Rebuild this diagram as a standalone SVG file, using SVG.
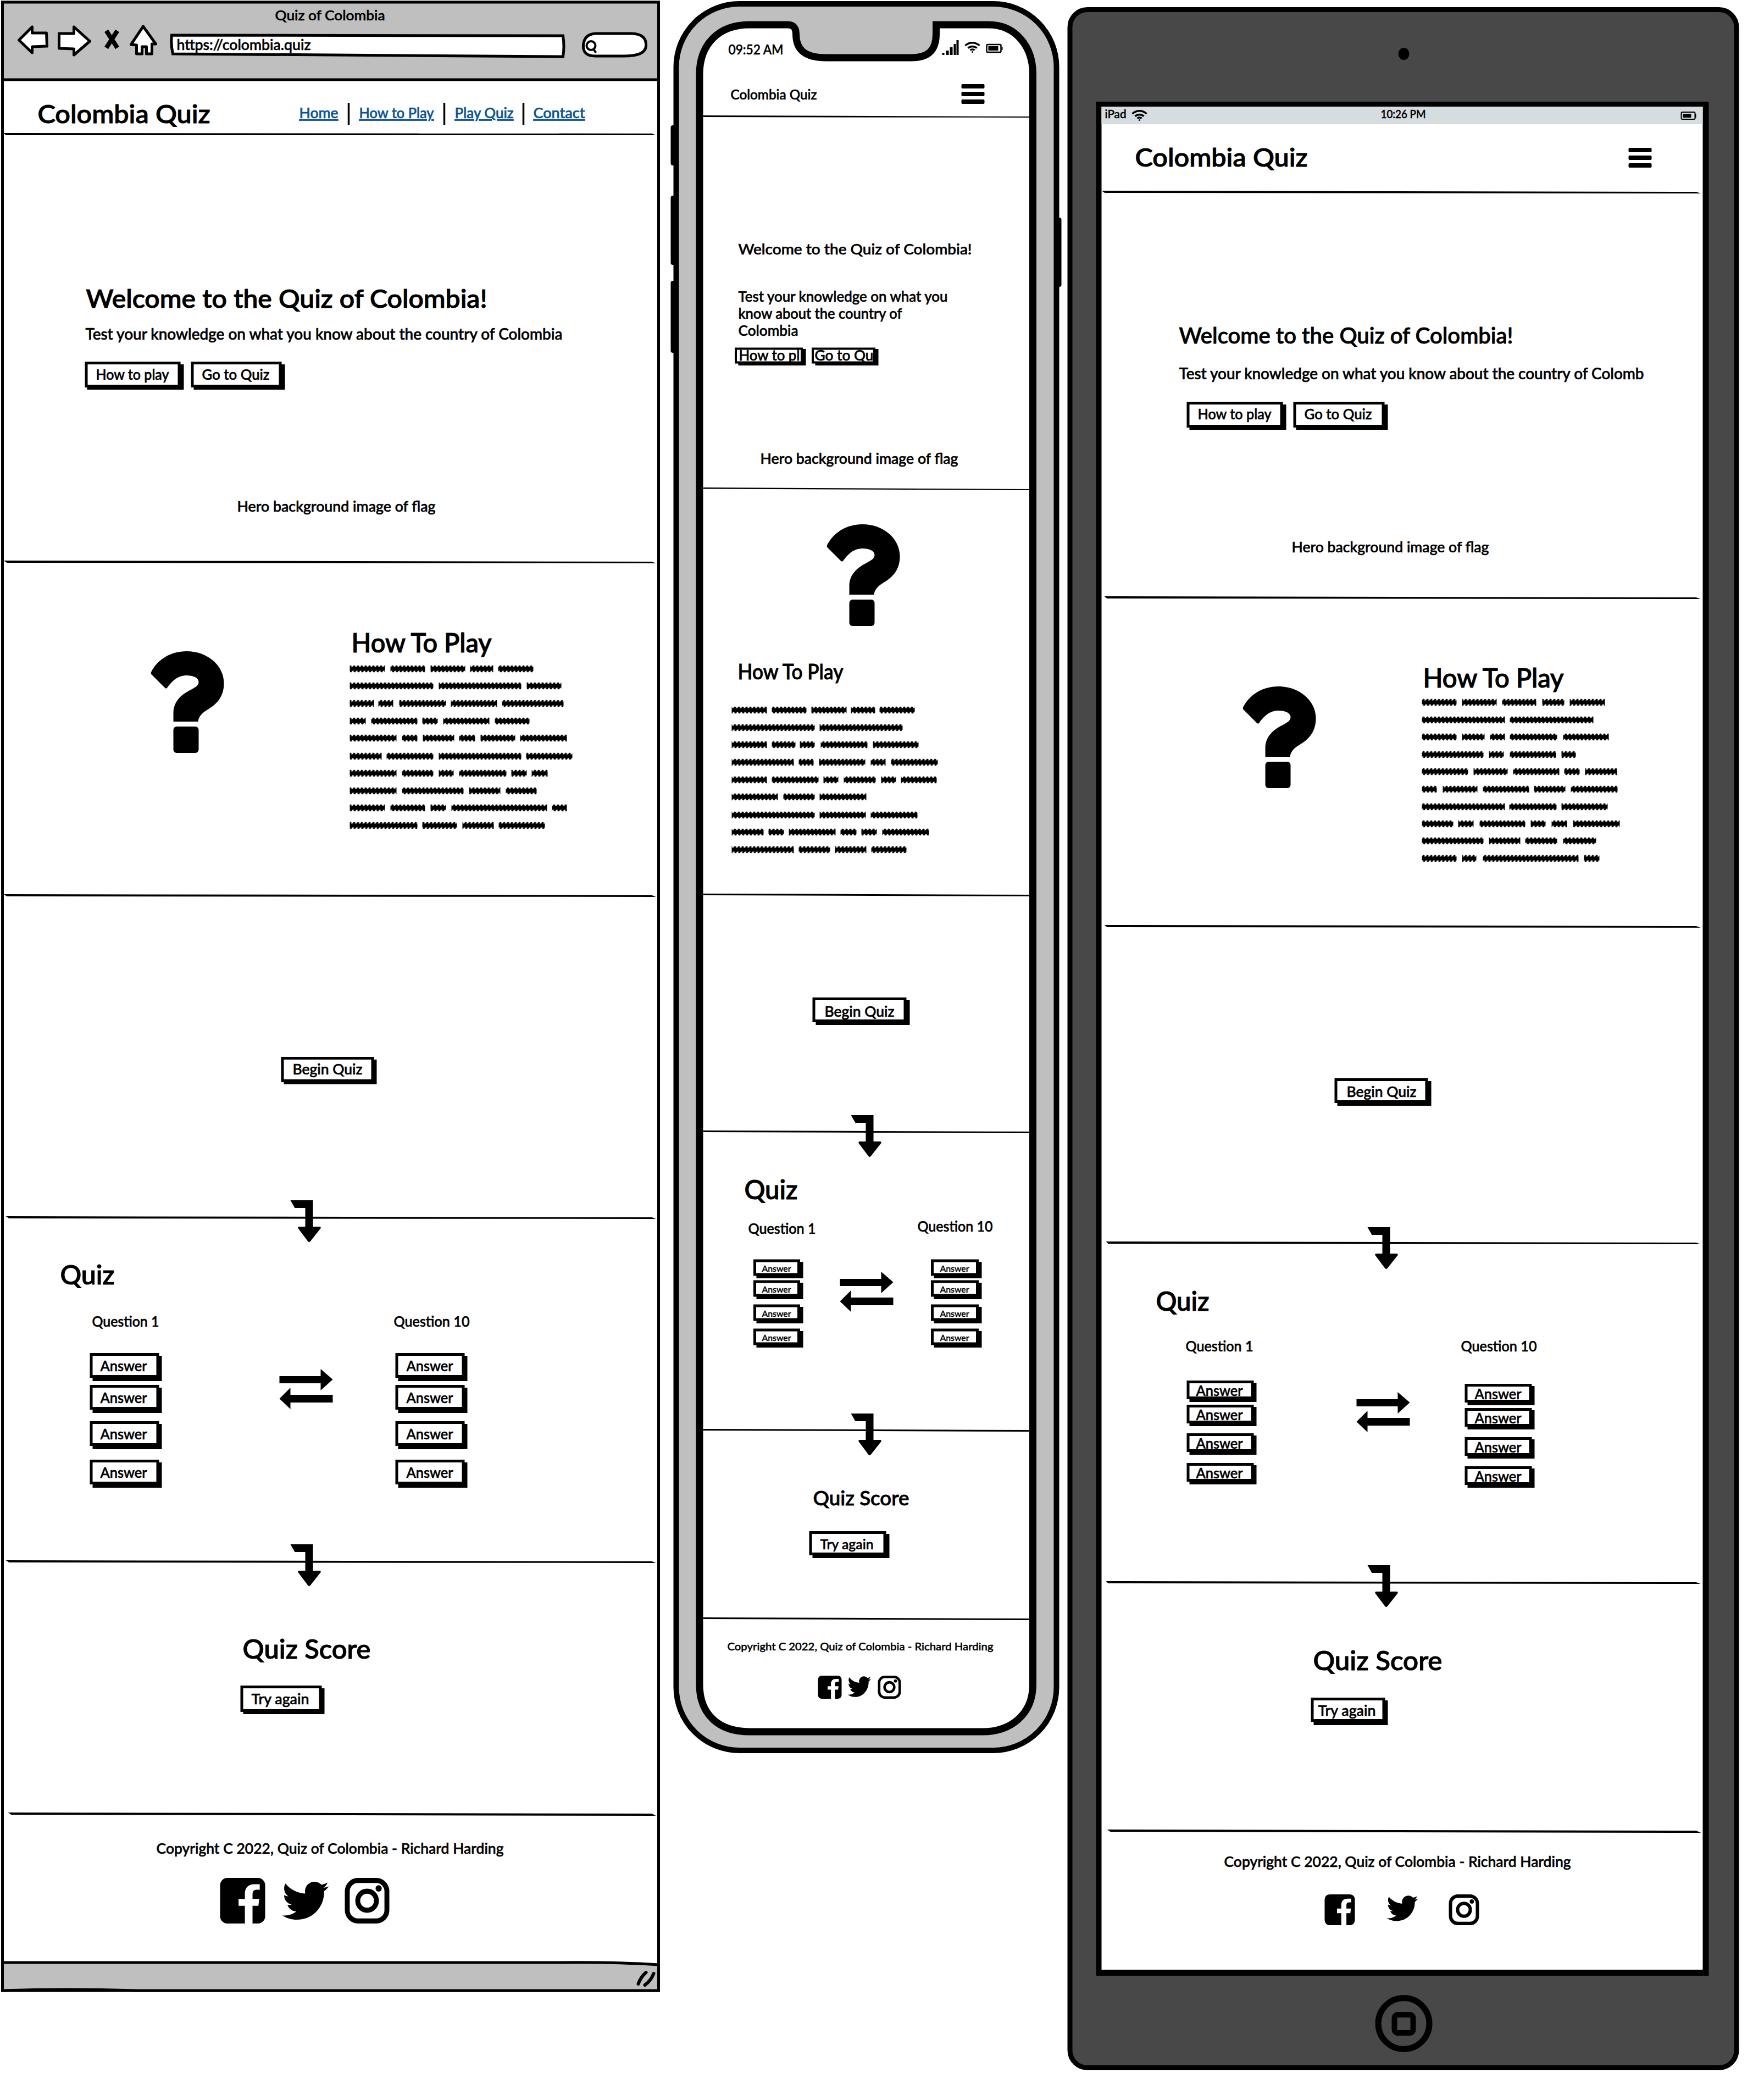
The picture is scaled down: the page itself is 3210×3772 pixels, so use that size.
<svg xmlns="http://www.w3.org/2000/svg" width="3210" height="3772" viewBox="0 0 3210 3772">
<style>
text{font-family:Lato,"Open Sans","Liberation Sans",sans-serif;fill:#000;stroke:#000;stroke-width:.025em;font-weight:500}
.lnk{fill:#0b5394;stroke:#0b5394;text-decoration:underline}
.sq{fill:none;stroke:url(#sqp);stroke-width:13}
.d{fill:#000}
.s{fill:#000}
.b{fill:#fff;stroke:#000;stroke-width:5}
.c{fill:#fff;stroke:#000;stroke-width:5;stroke-linejoin:round}
</style>
<defs>
<pattern id="sqp" patternUnits="userSpaceOnUse" x="0" y="-7" width="7" height="14">
<rect y="3.500" width="7" height="7" fill="#000"/>
<path d="M-5 13L3 1M2 13L10 1M9 13L17 1" stroke="#000" stroke-width="3.500" fill="none"/>
</pattern>
<g id="ques"><path d="M2 37C14 14 38 0 66 0C104 0 134 26 134 58C134 80 124 95 103 107C92 114 88 120 87 128H42V112C42 88 62 76 74 70C83 65 88 62 88 56C88 48 78 44 66 44C50 44 40 54 31 66C30 68 28 68 26 66L2 42C1 41 1 39 2 37Z"/><rect x="42" y="137" width="46" height="48" rx="6"/></g>
<path id="hook" d="M0 0H41V48H53Q56 48 55 51L36 75Q34 77 32 75L14 51Q13 48 16 48H27V14H8Z"/>
<path id="swap" d="M0 13H75V0L97 19L75 39V26H0ZM0 54L20 34V47H97V61H20V73Z"/>
<g id="burg"><rect width="42" height="8" rx="2"/><rect y="14" width="42" height="8" rx="2"/><rect y="28" width="42" height="8" rx="2"/></g>
<path id="fb" d="M16 0H84a16 16 0 0 1 16 16V84a16 16 0 0 1-16 16H72V61H85L87 46H72V36c0-7 3-10 10-10H88V14H76C62 14 55 22 55 35V46H41V61H55V100H16A16 16 0 0 1 0 84V16A16 16 0 0 1 16 0Z"/>
<path id="tw" d="M459.37 151.716c.325 4.548.325 9.097.325 13.645 0 138.72-105.583 298.558-298.558 298.558-59.452 0-114.68-17.219-161.137-47.106 8.447.974 16.568 1.299 25.34 1.299 49.055 0 94.213-16.568 130.274-44.832-46.132-.975-84.792-31.188-98.112-72.772 6.498.974 12.995 1.624 19.818 1.624 9.421 0 18.843-1.3 27.614-3.573-48.081-9.747-84.143-51.98-84.143-102.985v-1.299c13.969 7.797 30.214 12.67 47.431 13.319-28.264-18.843-46.781-51.005-46.781-87.391 0-19.492 5.197-37.36 14.294-52.954 51.655 63.675 129.3 105.258 216.365 109.807-1.624-7.797-2.599-15.918-2.599-24.04 0-57.828 46.782-104.934 104.934-104.934 30.213 0 57.502 12.67 76.67 33.137 23.715-4.548 46.456-13.32 66.599-25.34-7.798 24.366-24.366 44.833-46.132 57.827 21.117-2.273 41.584-8.122 60.426-16.243-14.292 20.791-32.161 39.308-52.628 54.253z"/>
<g id="ig"><rect x="5.500" y="5.500" width="89" height="89" rx="24" fill="none" stroke="#000" stroke-width="11"/><circle cx="50" cy="50" r="21" fill="none" stroke="#000" stroke-width="11"/><circle cx="76" cy="23" r="7"/></g>
<g id="wifi" fill="none" stroke="#000" stroke-width="3.500"><path d="M1 7A19 19 0 0 1 27 7M6 11.500A12 12 0 0 1 22 11.500M10 15.500A6 6 0 0 1 18 15.500"/><circle cx="14" cy="18.500" r="1.500" fill="#000" stroke="none"/></g>
</defs>
<rect width="3210" height="3772" fill="#fff"/>
<g transform="translate(-1.500,0)">
<g id="browser">
<rect x="6" y="4" width="1194" height="3618" fill="#fff" stroke="#000" stroke-width="5"/>
<path d="M6 4H1200V145H6Z" fill="#bfbfbf" stroke="#000" stroke-width="5"/>
<path d="M6 3571H1020Q1120 3570 1200 3575V3622H250Q120 3618 6 3622Z" fill="#bfbfbf" stroke="#000" stroke-width="5"/>
<path d="M1163 3610Q1167 3598 1177 3589M1175 3612Q1186 3604 1191 3591" fill="none" stroke="#000" stroke-width="6" stroke-linecap="round"/>
<text x="502" y="37" font-size="25" textLength="200" lengthAdjust="spacingAndGlyphs">Quiz of Colombia</text>
<path class="c" d="M36 73L60 49L60 60L86 60L87 84L60 85L60 96Z"/>
<path class="c" d="M165 75L136 49L136 61L109 61L109 88L136 89L136 100Z"/>
<path d="M195 56L215 87M215 56L195 87" stroke="#000" stroke-width="8" fill="none"/>
<path class="c" d="M262 48L240 81L250 82L250 98L260 98L260 85L268 85L268 98L278 98L278 80L285 80Z"/>
<path d="M314 64Q670 64 1026 65Q1029 85 1026 103Q670 100 316 98Q312 80 314 64Z" fill="#fff" stroke="#000" stroke-width="5"/>
<text x="323" y="91" font-size="26" textLength="244" lengthAdjust="spacingAndGlyphs">https://colombia.quiz</text>
<path d="M1085 61H1150C1172 61 1178 72 1177 84C1176 97 1160 103 1130 102H1085C1068 102 1062 94 1063 82C1064 70 1070 62 1085 61Z" fill="#fff" stroke="#000" stroke-width="5"/>
<circle cx="1077" cy="83" r="8" fill="none" stroke="#000" stroke-width="4"/><path d="M1082 90L1086 96" stroke="#000" stroke-width="4"/>
</g>
<g id="browser-nav">
<text x="70" y="224" font-size="47" textLength="314" lengthAdjust="spacingAndGlyphs">Colombia Quiz</text>
<text class="lnk" x="546" y="215" font-size="27" textLength="71" lengthAdjust="spacingAndGlyphs">Home</text>
<text class="lnk" x="655" y="215" font-size="27" textLength="136" lengthAdjust="spacingAndGlyphs">How to Play</text>
<text class="lnk" x="829" y="215" font-size="27" textLength="107" lengthAdjust="spacingAndGlyphs">Play Quiz</text>
<text class="lnk" x="972" y="215" font-size="27" textLength="94" lengthAdjust="spacingAndGlyphs">Contact</text>
<path d="M636 187V227M810 187V227M954 187V227" stroke="#000" stroke-width="3.500" fill="none"/>
</g>
<g id="browser-dividers">
<path class="d" d="M8 242L1188 243L1195 246L12 246Z"/>
<path class="d" d="M8 1020L1188 1022L1195 1025L14 1024Z"/>
<path class="d" d="M8 1627L1188 1629L1195 1632L14 1631Z"/>
<path class="d" d="M12 2213L1188 2215L1195 2218L18 2217Z"/>
<path class="d" d="M12 2839L1188 2841L1195 2844L18 2843Z"/>
<path class="d" d="M16 3298L1188 3300L1195 3304L22 3302Z"/>
</g>
<g id="browser-hero">
<text x="158" y="560" font-size="47" textLength="730" lengthAdjust="spacingAndGlyphs">Welcome to the Quiz of Colombia!</text>
<text x="157" y="618" font-size="29" textLength="868" lengthAdjust="spacingAndGlyphs">Test your knowledge on what you know about the country of Colombia</text>
<rect class="s" x="160" y="663" width="176" height="46"/><rect class="b" x="158.500" y="660.500" width="169" height="42"/>
<text x="176" y="691" font-size="27" textLength="133" lengthAdjust="spacingAndGlyphs">How to play</text>
<rect class="s" x="354" y="663" width="166" height="46"/><rect class="b" x="351.500" y="660.500" width="160" height="42"/>
<text x="369" y="691" font-size="27" textLength="123" lengthAdjust="spacingAndGlyphs">Go to Quiz</text>
<text x="433" y="931" font-size="26" textLength="361" lengthAdjust="spacingAndGlyphs">Hero background image of flag</text>
</g>
<g id="browser-howto">
<use href="#ques" x="275" y="1185"/>
<text x="641" y="1187" font-size="48" textLength="255" lengthAdjust="spacingAndGlyphs">How To Play</text>
<path class="sq" transform="translate(0,1217)" d="M638 0H702M712 0H775M785 0H848M857 0H899M908 0H972"/>
<path class="sq" transform="translate(0,1248)" d="M638 0H790M800 0H950M960 0H1023"/>
<path class="sq" transform="translate(0,1280)" d="M638 0H682M690 0H717M728 0H813M822 0H906M915 0H1027"/>
<path class="sq" transform="translate(0,1312)" d="M638 0H667M677 0H761M770 0H798M808 0H892M902 0H965"/>
<path class="sq" transform="translate(0,1343)" d="M638 0H723M733 0H761M771 0H828M837 0H866M876 0H939M948 0H1033"/>
<path class="sq" transform="translate(0,1376)" d="M638 0H696M705 0H790M800 0H950M959 0H1043"/>
<path class="sq" transform="translate(0,1407)" d="M638 0H723M733 0H790M800 0H827M837 0H923M932 0H960M969 0H998"/>
<path class="sq" transform="translate(0,1439)" d="M638 0H723M733 0H845M855 0H912M922 0H978"/>
<path class="sq" transform="translate(0,1470)" d="M638 0H702M712 0H775M785 0H813M823 0H997M1006 0H1033"/>
<path class="sq" transform="translate(0,1502)" d="M638 0H761M770 0H833M843 0H900M909 0H993"/>
</g>
<g id="browser-begin">
<rect class="s" x="518" y="1928" width="169" height="45"/><rect class="b" x="515.500" y="1925.500" width="164" height="41"/>
<text x="534" y="1955" font-size="27" textLength="127" lengthAdjust="spacingAndGlyphs">Begin Quiz</text>
</g>
<g id="browser-quiz">
<text x="111" y="2337" font-size="48" textLength="99" lengthAdjust="spacingAndGlyphs">Quiz</text>
<text x="169" y="2414" font-size="26" textLength="122" lengthAdjust="spacingAndGlyphs">Question 1</text>
<text x="718" y="2414" font-size="26" textLength="138" lengthAdjust="spacingAndGlyphs">Question 10</text>
<rect class="s" x="170" y="2467" width="126" height="46"/><rect class="b" x="167.500" y="2464.500" width="121" height="40"/><text x="184" y="2495" font-size="26" textLength="85" lengthAdjust="spacingAndGlyphs">Answer</text>
<rect class="s" x="170" y="2525" width="126" height="46"/><rect class="b" x="167.500" y="2522.500" width="121" height="40"/><text x="184" y="2553" font-size="26" textLength="85" lengthAdjust="spacingAndGlyphs">Answer</text>
<rect class="s" x="170" y="2591" width="126" height="46"/><rect class="b" x="167.500" y="2588.500" width="121" height="40"/><text x="184" y="2619" font-size="26" textLength="85" lengthAdjust="spacingAndGlyphs">Answer</text>
<rect class="s" x="170" y="2661" width="126" height="46"/><rect class="b" x="167.500" y="2658.500" width="121" height="40"/><text x="184" y="2689" font-size="26" textLength="85" lengthAdjust="spacingAndGlyphs">Answer</text>
<rect class="s" x="726" y="2467" width="126" height="46"/><rect class="b" x="723.500" y="2464.500" width="121" height="40"/><text x="741" y="2495" font-size="26" textLength="85" lengthAdjust="spacingAndGlyphs">Answer</text>
<rect class="s" x="726" y="2525" width="126" height="46"/><rect class="b" x="723.500" y="2522.500" width="121" height="40"/><text x="741" y="2553" font-size="26" textLength="85" lengthAdjust="spacingAndGlyphs">Answer</text>
<rect class="s" x="726" y="2591" width="126" height="46"/><rect class="b" x="723.500" y="2588.500" width="121" height="40"/><text x="741" y="2619" font-size="26" textLength="85" lengthAdjust="spacingAndGlyphs">Answer</text>
<rect class="s" x="726" y="2661" width="126" height="46"/><rect class="b" x="723.500" y="2658.500" width="121" height="40"/><text x="741" y="2689" font-size="26" textLength="85" lengthAdjust="spacingAndGlyphs">Answer</text>
</g>
<g id="browser-score">
<text x="443" y="3018" font-size="48" textLength="233" lengthAdjust="spacingAndGlyphs">Quiz Score</text>
<rect class="s" x="444" y="3072" width="148" height="47"/><rect class="b" x="441.500" y="3069.500" width="143" height="43"/>
<text x="459" y="3101" font-size="27" textLength="105" lengthAdjust="spacingAndGlyphs">Try again</text>
</g>
<g id="browser-footer">
<text x="286" y="3373" font-size="26" textLength="632" lengthAdjust="spacingAndGlyphs">Copyright C 2022, Quiz of Colombia - Richard Harding</text>
<use href="#fb" transform="translate(402,3417) scale(.82,.83)"/>
<use href="#tw" transform="translate(515,3416) scale(.166,.166)"/>
<use href="#ig" transform="translate(629,3417) scale(.81,.83)"/>
</g>

<g id="phone">
<rect x="1222" y="228" width="10" height="73" rx="4"/><rect x="1222" y="356" width="10" height="126" rx="4"/><rect x="1222" y="511" width="10" height="131" rx="4"/><rect x="1922" y="396" width="11" height="126" rx="4"/>
<rect x="1232" y="7" width="692" height="3178" rx="115" fill="#bfbfbf" stroke="#000" stroke-width="10"/>
<path d="M1274.500 135C1274.500 80 1310 45 1365 45H1435C1446 45 1450 52 1450 62C1450 90 1465 105 1505 105H1660C1690 105 1705 92 1705 62V45H1800C1850 45 1881 85 1881 135V3065C1881 3120 1840 3151 1790 3151H1365C1310 3151 1274.500 3120 1274.500 3065Z" fill="#fff" stroke="#000" stroke-width="13"/>
<text x="1327" y="99" font-size="24" textLength="100" lengthAdjust="spacingAndGlyphs">09:52 AM</text>
<path d="M1716 96h4v4h-4zM1723 92h5v8h-5zM1730 86h5v14h-5zM1737 80h4v20h-4zM1742 73h4v27h-4z"/>
<use href="#wifi" x="1757" y="76"/>
<rect x="1797" y="81" width="26" height="14" rx="2" fill="none" stroke="#000" stroke-width="2.500"/><rect x="1800" y="84" width="18" height="8"/><rect x="1824" y="85" width="2" height="6"/>
</g>
<g id="phone-nav">
<text x="1331" y="181" font-size="24" textLength="157" lengthAdjust="spacingAndGlyphs">Colombia Quiz</text>
<use href="#burg" x="1751" y="153"/>
</g>
<g id="phone-dividers">
<path class="d" d="M1281 210L1884 212L1887 214L1281 213Z"/>
<path class="d" d="M1281 887L1874 890L1874 892L1281 889.500Z"/>
<path class="d" d="M1281 1626L1874 1628L1874 1631L1281 1629Z"/>
<path class="d" d="M1281 2057L1874 2059L1874 2062L1281 2060Z"/>
<path class="d" d="M1281 2600L1874 2602L1874 2605L1281 2603Z"/>
<path class="d" d="M1281 2943L1874 2945L1874 2948L1281 2946Z"/>
</g>
<g id="phone-hero">
<text x="1345" y="463" font-size="27" textLength="425" lengthAdjust="spacingAndGlyphs">Welcome to the Quiz of Colombia!</text>
<text x="1345" y="549" font-size="26" textLength="381" lengthAdjust="spacingAndGlyphs">Test your knowledge on what you</text>
<text x="1345" y="580" font-size="26" textLength="298" lengthAdjust="spacingAndGlyphs">know about the country of</text>
<text x="1345" y="611" font-size="26" textLength="109" lengthAdjust="spacingAndGlyphs">Colombia</text>
<rect x="1340" y="634" width="120" height="25" fill="#fff"/><text x="1346" y="656" font-size="26" textLength="111" lengthAdjust="spacingAndGlyphs">How to pl</text>
<path d="M1341 659H1468V665H1345V661H1341ZM1459 635H1468V659H1459Z"/><rect x="1340.500" y="634.500" width="120" height="25" fill="none" stroke="#000" stroke-width="4"/>
<rect x="1480" y="634" width="112" height="25" fill="#fff"/><text x="1484" y="656" font-size="26" textLength="107" lengthAdjust="spacingAndGlyphs">Go to Qu</text>
<path d="M1481 659H1600V665H1485V661H1481ZM1591 635H1600V659H1591Z"/><rect x="1480.500" y="634.500" width="112" height="25" fill="none" stroke="#000" stroke-width="4"/>
<text x="1385" y="844" font-size="26" textLength="360" lengthAdjust="spacingAndGlyphs">Hero background image of flag</text>
</g>
<g id="phone-howto">
<use href="#ques" x="1505" y="954"/>
<text x="1344" y="1236" font-size="38" textLength="192" lengthAdjust="spacingAndGlyphs">How To Play</text>
<path class="sq" transform="translate(0,1292)" d="M1333 0H1397M1406 0H1469M1478 0H1542M1550 0H1594M1602 0H1666"/>
<path class="sq" transform="translate(0,1324)" d="M1333 0H1484M1493 0H1644"/>
<path class="sq" transform="translate(0,1355)" d="M1333 0H1397M1406 0H1449M1457 0H1484M1495 0H1580M1590 0H1673"/>
<path class="sq" transform="translate(0,1387)" d="M1333 0H1446M1455 0H1482M1492 0H1576M1586 0H1613M1623 0H1708"/>
<path class="sq" transform="translate(0,1419)" d="M1333 0H1397M1406 0H1491M1500 0H1527M1537 0H1595M1605 0H1632M1641 0H1706"/>
<path class="sq" transform="translate(0,1450)" d="M1333 0H1417M1427 0H1484M1493 0H1578"/>
<path class="sq" transform="translate(0,1483)" d="M1333 0H1484M1493 0H1577M1586 0H1671"/>
<path class="sq" transform="translate(0,1514)" d="M1333 0H1391M1400 0H1428M1437 0H1522M1531 0H1560M1569 0H1597M1607 0H1692"/>
<path class="sq" transform="translate(0,1546)" d="M1333 0H1446M1455 0H1512M1521 0H1578M1587 0H1651"/>
</g>
<g id="phone-begin">
<rect class="s" x="1486" y="1820" width="171" height="45"/><rect class="b" x="1482.500" y="1817.500" width="166" height="40"/>
<text x="1502" y="1850" font-size="27" textLength="127" lengthAdjust="spacingAndGlyphs">Begin Quiz</text>
</g>
<g id="phone-quiz">
<text x="1356" y="2182" font-size="48" textLength="97" lengthAdjust="spacingAndGlyphs">Quiz</text>
<text x="1363" y="2245" font-size="26" textLength="123" lengthAdjust="spacingAndGlyphs">Question 1</text>
<text x="1671" y="2241" font-size="26" textLength="137" lengthAdjust="spacingAndGlyphs">Question 10</text>
<rect class="s" x="1378" y="2296" width="85" height="30"/><rect class="b" x="1375" y="2294" width="80" height="25"/><text x="1388" y="2314" font-size="16" textLength="53" lengthAdjust="spacingAndGlyphs">Answer</text>
<rect class="s" x="1378" y="2334" width="85" height="30"/><rect class="b" x="1375" y="2332" width="80" height="25"/><text x="1388" y="2352" font-size="16" textLength="53" lengthAdjust="spacingAndGlyphs">Answer</text>
<rect class="s" x="1378" y="2378" width="85" height="30"/><rect class="b" x="1375" y="2376" width="80" height="25"/><text x="1388" y="2396" font-size="16" textLength="53" lengthAdjust="spacingAndGlyphs">Answer</text>
<rect class="s" x="1378" y="2422" width="85" height="30"/><rect class="b" x="1375" y="2420" width="80" height="25"/><text x="1388" y="2440" font-size="16" textLength="53" lengthAdjust="spacingAndGlyphs">Answer</text>
<rect class="s" x="1701" y="2296" width="87" height="30"/><rect class="b" x="1698" y="2294" width="82" height="25"/><text x="1712" y="2314" font-size="16" textLength="53" lengthAdjust="spacingAndGlyphs">Answer</text>
<rect class="s" x="1701" y="2334" width="87" height="30"/><rect class="b" x="1698" y="2332" width="82" height="25"/><text x="1712" y="2352" font-size="16" textLength="53" lengthAdjust="spacingAndGlyphs">Answer</text>
<rect class="s" x="1701" y="2378" width="87" height="30"/><rect class="b" x="1698" y="2376" width="82" height="25"/><text x="1712" y="2396" font-size="16" textLength="53" lengthAdjust="spacingAndGlyphs">Answer</text>
<rect class="s" x="1701" y="2422" width="87" height="30"/><rect class="b" x="1698" y="2420" width="82" height="25"/><text x="1712" y="2440" font-size="16" textLength="53" lengthAdjust="spacingAndGlyphs">Answer</text>
</g>
<g id="phone-score">
<text x="1481" y="2739" font-size="37" textLength="175" lengthAdjust="spacingAndGlyphs">Quiz Score</text>
<rect class="s" x="1480" y="2791" width="140" height="44"/><rect class="b" x="1476.500" y="2788.500" width="135" height="39"/>
<text x="1494" y="2819" font-size="25" textLength="97" lengthAdjust="spacingAndGlyphs">Try again</text>
</g>
<g id="phone-footer">
<text x="1325" y="3003" font-size="20" textLength="484" lengthAdjust="spacingAndGlyphs">Copyright C 2022, Quiz of Colombia - Richard Harding</text>
<use href="#fb" transform="translate(1490,3049) scale(.43,.42)"/>
<use href="#tw" transform="translate(1544,3046) scale(.083,.09)"/>
<use href="#ig" transform="translate(1599,3049) scale(.42,.42)"/>
</g>

<g id="tablet">
<rect x="1948.500" y="17.500" width="1213" height="3745" rx="32" fill="#484848" stroke="#000" stroke-width="9"/>
<ellipse cx="2556" cy="98" rx="10" ry="11"/>
<rect x="1996" y="185" width="1115" height="3410"/>
<rect x="2006" y="194" width="1094" height="3390" fill="#fff"/>
<rect x="2006" y="194" width="1094" height="32" fill="#d5dde0"/>
<text x="2012" y="215" font-size="21" textLength="39" lengthAdjust="spacingAndGlyphs">iPad</text>
<use href="#wifi" x="2061" y="200"/>
<text x="2514" y="215" font-size="21" textLength="82" lengthAdjust="spacingAndGlyphs">10:26 PM</text>
<rect x="3061" y="204" width="25" height="13" rx="2" fill="none" stroke="#000" stroke-width="2"/><rect x="3064" y="207" width="15" height="7"/><rect x="3086" y="207" width="2" height="7"/>
<ellipse cx="2556" cy="3682" rx="46.500" ry="46.500" fill="none" stroke="#000" stroke-width="11"/>
<rect x="2539" y="3666" width="34" height="33" rx="6" fill="none" stroke="#000" stroke-width="10"/>
</g>
<g id="tablet-nav">
<text x="2067" y="303" font-size="47" textLength="314" lengthAdjust="spacingAndGlyphs">Colombia Quiz</text>
<use href="#burg" x="2965" y="269"/>
</g>
<g id="tablet-dividers">
<path class="d" d="M2006 347L3088 349L3097 352L2012 351Z"/>
<path class="d" d="M2011 1085L3088 1087L3096 1090L2016 1089Z"/>
<path class="d" d="M2011 1683L3088 1685L3096 1688L2016 1687Z"/>
<path class="d" d="M2014 2259L3088 2261L3096 2264L2018 2263Z"/>
<path class="d" d="M2014 2877L3088 2879L3096 2882L2018 2881Z"/>
<path class="d" d="M2016 3329L3088 3331L3097 3335L2022 3333Z"/>
</g>
<g id="tablet-hero">
<text x="2147" y="625" font-size="40" textLength="608" lengthAdjust="spacingAndGlyphs">Welcome to the Quiz of Colombia!</text>
<text x="2147" y="690" font-size="29" textLength="846" lengthAdjust="spacingAndGlyphs">Test your knowledge on what you know about the country of Colomb</text>
<rect class="s" x="2166" y="736" width="176" height="46"/><rect class="b" x="2163.500" y="733.500" width="170" height="42"/>
<text x="2181" y="763" font-size="27" textLength="134" lengthAdjust="spacingAndGlyphs">How to play</text>
<rect class="s" x="2360" y="736" width="167" height="46"/><rect class="b" x="2357.500" y="733.500" width="161" height="42"/>
<text x="2375" y="763" font-size="27" textLength="123" lengthAdjust="spacingAndGlyphs">Go to Quiz</text>
<text x="2352" y="1005" font-size="26" textLength="359" lengthAdjust="spacingAndGlyphs">Hero background image of flag</text>
</g>
<g id="tablet-howto">
<use href="#ques" x="2262" y="1249"/>
<text x="2591" y="1251" font-size="48" textLength="256" lengthAdjust="spacingAndGlyphs">How To Play</text>
<path class="sq" transform="translate(0,1278)" d="M2589 0H2652M2662 0H2725M2735 0H2797M2808 0H2848M2858 0H2922"/>
<path class="sq" transform="translate(0,1310)" d="M2589 0H2740M2749 0H2901"/>
<path class="sq" transform="translate(0,1341)" d="M2589 0H2652M2662 0H2703M2713 0H2740M2749 0H2835M2846 0H2929"/>
<path class="sq" transform="translate(0,1373)" d="M2589 0H2701M2711 0H2738M2749 0H2833M2843 0H2869"/>
<path class="sq" transform="translate(0,1404)" d="M2589 0H2673M2683 0H2745M2755 0H2839M2848 0H2876M2886 0H2944"/>
<path class="sq" transform="translate(0,1436)" d="M2589 0H2616M2627 0H2690M2700 0H2784M2793 0H2850M2860 0H2945"/>
<path class="sq" transform="translate(0,1468)" d="M2589 0H2740M2748 0H2834M2843 0H2927"/>
<path class="sq" transform="translate(0,1499)" d="M2589 0H2646M2655 0H2683M2694 0H2777M2787 0H2814M2825 0H2853M2864 0H2949"/>
<path class="sq" transform="translate(0,1530)" d="M2589 0H2701M2711 0H2768M2777 0H2835M2846 0H2906"/>
<path class="sq" transform="translate(0,1562)" d="M2589 0H2652M2662 0H2688M2700 0H2874M2884 0H2912"/>
</g>
<g id="tablet-begin">
<rect class="s" x="2435" y="1967" width="171" height="45"/><rect class="b" x="2432.500" y="1964.500" width="165" height="40"/>
<text x="2452" y="1996" font-size="27" textLength="127" lengthAdjust="spacingAndGlyphs">Begin Quiz</text>
</g>
<g id="tablet-quiz">
<text x="2105" y="2385" font-size="48" textLength="97" lengthAdjust="spacingAndGlyphs">Quiz</text>
<text x="2159" y="2459" font-size="26" textLength="123" lengthAdjust="spacingAndGlyphs">Question 1</text>
<text x="2660" y="2459" font-size="26" textLength="138" lengthAdjust="spacingAndGlyphs">Question 10</text>
<rect class="s" x="2166" y="2516" width="122" height="35"/><rect class="b" x="2163.500" y="2514.500" width="117" height="29"/><text x="2178" y="2540" font-size="26" textLength="85" lengthAdjust="spacingAndGlyphs">Answer</text>
<rect class="s" x="2166" y="2560" width="122" height="35"/><rect class="b" x="2163.500" y="2558.500" width="117" height="29"/><text x="2178" y="2584" font-size="26" textLength="85" lengthAdjust="spacingAndGlyphs">Answer</text>
<rect class="s" x="2166" y="2612" width="122" height="35"/><rect class="b" x="2163.500" y="2610.500" width="117" height="29"/><text x="2178" y="2636" font-size="26" textLength="85" lengthAdjust="spacingAndGlyphs">Answer</text>
<rect class="s" x="2166" y="2666" width="122" height="35"/><rect class="b" x="2163.500" y="2664.500" width="117" height="29"/><text x="2178" y="2690" font-size="26" textLength="85" lengthAdjust="spacingAndGlyphs">Answer</text>
<rect class="s" x="2672" y="2522" width="122" height="35"/><rect class="b" x="2669.500" y="2520.500" width="117" height="29"/><text x="2685" y="2546" font-size="26" textLength="85" lengthAdjust="spacingAndGlyphs">Answer</text>
<rect class="s" x="2672" y="2566" width="122" height="35"/><rect class="b" x="2669.500" y="2564.500" width="117" height="29"/><text x="2685" y="2590" font-size="26" textLength="85" lengthAdjust="spacingAndGlyphs">Answer</text>
<rect class="s" x="2672" y="2619" width="122" height="35"/><rect class="b" x="2669.500" y="2617.500" width="117" height="29"/><text x="2685" y="2643" font-size="26" textLength="85" lengthAdjust="spacingAndGlyphs">Answer</text>
<rect class="s" x="2672" y="2672" width="122" height="35"/><rect class="b" x="2669.500" y="2670.500" width="117" height="29"/><text x="2685" y="2696" font-size="26" textLength="85" lengthAdjust="spacingAndGlyphs">Answer</text>
</g>
<g id="tablet-score">
<text x="2391" y="3039" font-size="48" textLength="235" lengthAdjust="spacingAndGlyphs">Quiz Score</text>
<rect class="s" x="2392" y="3094" width="135" height="45"/><rect class="b" x="2389.500" y="3091.500" width="130" height="39"/>
<text x="2400" y="3122" font-size="26" textLength="105" lengthAdjust="spacingAndGlyphs">Try again</text>
</g>
<g id="tablet-footer">
<text x="2229" y="3397" font-size="26" textLength="631" lengthAdjust="spacingAndGlyphs">Copyright C 2022, Quiz of Colombia - Richard Harding</text>
<use href="#fb" transform="translate(2412,3447) scale(.55,.56)"/>
<use href="#tw" transform="translate(2525,3444) scale(.111,.111)"/>
<use href="#ig" transform="translate(2638,3447) scale(.55,.56)"/>
</g>

<g id="connectors">
<use href="#hook" x="530" y="2184"/>
<use href="#hook" x="530" y="2810"/>
<use href="#swap" x="510" y="2491"/>
<use href="#hook" x="1550" y="2029"/>
<use href="#hook" x="1550" y="2572"/>
<use href="#swap" x="1530" y="2314"/>
<use href="#hook" x="2490" y="2233"/>
<use href="#hook" x="2490" y="2848"/>
<use href="#swap" x="2470" y="2533"/>
</g>
</g>
</svg>
